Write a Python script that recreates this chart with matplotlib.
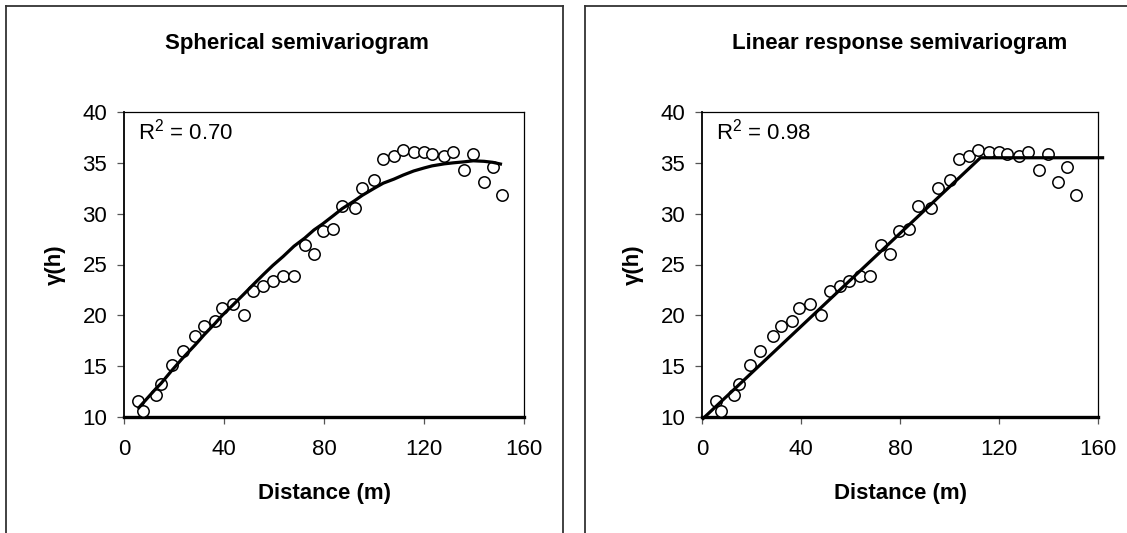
import matplotlib
matplotlib.use("Agg")
import matplotlib.pyplot as plt
from matplotlib.lines import Line2D

plt.rcParams['font.family'] = ['Liberation Sans', 'DejaVu Sans']
plt.rcParams['mathtext.fontset'] = 'custom'
plt.rcParams['mathtext.rm'] = 'Liberation Sans'
plt.rcParams['mathtext.it'] = 'Liberation Sans:italic'
plt.rcParams['mathtext.bf'] = 'Liberation Sans:bold'

# Observed semivariance (same in both panels)
distance = [5.5, 7.7, 12.8, 14.8, 19.2, 23.5, 28.5, 32.1, 36.4, 39.3, 43.5, 48.0,
            51.6, 55.7, 59.5, 63.7, 68.0, 72.3, 76.0, 79.5, 83.7, 87.3, 92.4, 95.3,
            100.1, 103.7, 108.0, 111.7, 115.9, 120.1, 123.2, 128.1, 131.7, 136.1,
            139.7, 144.0, 147.5, 151.2]
gamma = [11.6, 10.6, 12.2, 13.2, 15.15, 16.5, 18.0, 19.0, 19.4, 20.75, 21.1, 20.0,
         22.35, 22.85, 23.4, 23.9, 23.9, 26.9, 26.0, 28.3, 28.5, 30.8, 30.6, 32.55,
         33.3, 35.35, 35.7, 36.25, 36.1, 36.1, 35.9, 35.65, 36.1, 34.3, 35.9, 33.1,
         34.6, 31.85]

# Spherical model fitted values at each lag
spherical_fit = [10.8, 11.4, 12.8, 13.3, 14.6, 15.8, 17.1, 18.1, 19.2, 20.0, 21.0, 22.1,
                 23.0, 24.0, 24.9, 25.8, 26.8, 27.6, 28.4, 29.0, 29.8, 30.5, 31.3, 31.8,
                 32.5, 33.0, 33.4, 33.8, 34.2, 34.5, 34.7, 34.9, 35.0, 35.1,
                 35.2, 35.15, 35.05, 34.85]

# Linear response (linear-plateau) model
linear_x = [0.0, 112.5, 162.5]
linear_y = [9.75, 35.5, 35.5]

titles = ["Spherical semivariogram", "Linear response semivariogram"]
r2_labels = ["R$^2$ = 0.70", "R$^2$ = 0.98"]
xticks = [0, 40, 80, 120, 160]
yticks = [10, 15, 20, 25, 30, 35, 40]

W, H = 1127, 533
fig = plt.figure(figsize=(W / 100, H / 100), dpi=100)

axes_px = [(124, 112, 400, 305), (702, 112, 396, 305)]
title_x = [297, 900]
axs = []
for (x0, y0, w, h) in axes_px:
    ax = fig.add_axes([x0 / W, (H - y0 - h) / H, w / W, h / H])
    axs.append(ax)

for i, ax in enumerate(axs):
    ax.plot(distance, gamma, linestyle='none', marker='o', markersize=8.2,
            markerfacecolor='white', markeredgecolor='black', markeredgewidth=1.1,
            zorder=3)
    if i == 0:
        ax.plot(distance, spherical_fit, color='black', linewidth=2.3, zorder=4,
                solid_capstyle='butt')
    else:
        ax.plot(linear_x, linear_y, color='black', linewidth=2.3, zorder=4,
                clip_on=False, solid_capstyle='butt')
    ax.set_xlim(0, 160)
    ax.set_ylim(10, 40)
    ax.set_xticks(xticks)
    ax.set_yticks(yticks)
    ax.tick_params(axis='both', direction='out', length=5, width=0.9, color='#555555',
                   labelsize=16, colors='black')
    ax.tick_params(axis='y', pad=7)
    ax.tick_params(axis='x', pad=11)
    ax.tick_params(axis='both', color='#555555')
    for s in ['top', 'right']:
        ax.spines[s].set_linewidth(0.9)
        ax.spines[s].set_color('black')
    ax.spines['left'].set_linewidth(1.3)
    ax.spines['bottom'].set_linewidth(2.4)
    ax.set_xlabel("Distance (m)", fontsize=16, fontweight='bold')
    ax.xaxis.set_label_coords(0.5, -0.25)
    ax.xaxis.label.set_va('center')
    ax.set_ylabel("γ(h)", fontsize=16, fontweight='bold')
    ax.yaxis.set_label_coords(-69 / axes_px[i][2], 0.5)
    ax.yaxis.label.set_va('center')
    ax.text(0.036, 0.935, r2_labels[i], transform=ax.transAxes, fontsize=16,
            ha='left', va='center')
    fig.text(title_x[i] / W, 1 - 43 / H, titles[i], fontsize=16, fontweight='bold',
             ha='center', va='center')

# chart-area frames
def fline(xs, ys):
    fig.add_artist(Line2D([x / W for x in xs], [1 - y / H for y in ys],
                          color='#333333', linewidth=1.3, transform=fig.transFigure))

fline([5.5, 5.5], [6, 540])
fline([5.5, 562.5], [6, 6])
fline([562.5, 562.5], [6, 540])
fline([584.5, 584.5], [6, 540])
fline([584.5, 1130], [6, 6])

fig.savefig("out.png", dpi=100, facecolor='white')
